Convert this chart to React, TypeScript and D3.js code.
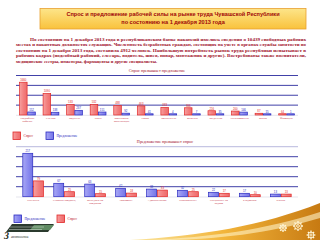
import * as React from 'react';
import * as d3 from 'd3';

const TITLE_LINES = [
  'Спрос и предложение рабочей силы на рынке труда Чувашской Республики',
  'по состоянию на 1 декабря 2013 года',
];

const PARAGRAPH = [
  'По состоянию на 1 декабря 2013 года в республиканском банке вакансий имелись сведения о 10439 свободных рабочих',
  'местах и вакантных должностях служащих. Численность безработных граждан, состоящих на учете в органах службы занятости по',
  'состоянию на 1 декабря 2013 года, составила 4912 человек. Наибольшую потребность рынок труда республики испытывает в',
  'рабочих кадрах (подсобный рабочий, слесарь, водитель, швея, повар, монтажник и другие). Востребованы также воспитатели,',
  'медицинские сестры, инженеры, фармацевты и другие специалисты.',
];

// chart 1: demand exceeds supply
const demandCats = [
  'Подсобный\nрабочий', 'Слесарь', 'Водитель', 'Швея', 'Монтажник\nконструкций', 'Повар',
  'Воспитатель', 'Инженер', 'Медсестра', 'Электромонтер', 'Маляр', 'Фармацевт',
];
const demandVacancies = [1660, 1090, 533, 532, 488, 463, 383, 366, 216, 200, 87, 64];
const demandJobseekers = [152, 138, 237, 151, 92, 41, 4, 7, 35, 146, 15, 1];
const demandTicks = [500, 1000, 1500, 2000];

// chart 2: supply exceeds demand
const supplyCats = [
  'Бухгалтер', 'Старший продавец', 'Менеджер по\nпродажам', 'Экономист', 'Администратор',
  'Юрисконсульт', 'Специалист по\nкадрам', 'Кладовщик', 'Кассир',
];
const supplyJobseekers = [217, 67, 63, 42, 38, 32, 22, 17, 13];
const supplyVacancies = [79, 25, 15, 18, 33, 25, 17, 10, 13];
const supplyTicks = [50, 100, 150, 200, 250];

const RED = '#e02828';
const BLUE = '#2a2ac0';
const GRID = '#2b2b9e';
const TEXT_RED = '#a0102a';

function GroupedBars({
  cats, first, second, firstKind, ticks, yMax, top, bottom, left, right, padOuter, title, titleX, titleY,
}: any) {
  const x = d3.scaleBand<number>().domain(d3.range(cats.length)).range([left, right])
    .paddingInner(0.33).paddingOuter(padOuter);
  const inner = d3.scaleBand<number>().domain([0, 1]).range([0, x.bandwidth()]).paddingInner(0.08);
  const y = d3.scaleLinear().domain([0, yMax]).range([bottom, top]);
  const series = [first, second];
  const kinds = firstKind === 'red' ? ['red', 'blue'] : ['blue', 'red'];

  return (
    <g>
      <text x={titleX} y={titleY} textAnchor="middle" fontSize={4.2} fill={TEXT_RED}
        fontFamily="Liberation Serif">{title}</text>
      {ticks.map((t: number, i: number) => (
        <line key={t} x1={left} x2={right} y1={y(t)} y2={y(t)}
          stroke={i === ticks.length - 1 && firstKind === 'blue' ? '#8a8ac8' : GRID}
          strokeWidth={i === ticks.length - 1 && firstKind === 'blue' ? 0.6 : 0.9} />
      ))}
      <line x1={left} x2={right} y1={bottom + 0.3} y2={bottom + 0.3} stroke="#c8c8d8" strokeWidth={0.5} />
      {cats.map((c: string, i: number) => (
        <g key={i} transform={`translate(${x(i)},0)`}>
          {series.map((s: number[], k: number) => {
            const v = s[i];
            const h = Math.max(bottom - y(v), 1.2);
            const kind = kinds[k];
            return (
              <g key={k}>
                <rect x={inner(k)} y={bottom - h} width={inner.bandwidth()} height={h}
                  fill={`url(#grad-${kind})`} stroke={kind === 'red' ? RED : BLUE} strokeWidth={0.7} />
                <text x={(inner(k) as number) + inner.bandwidth() / 2} y={bottom - h - 1.2}
                  textAnchor="middle" fontSize={2.8} fontFamily="Liberation Sans"
                  fill={kind === 'red' ? RED : BLUE}>{v}</text>
              </g>
            );
          })}
          {c.split('\n').map((ln, j) => (
            <text key={j} x={x.bandwidth() / 2} y={bottom + 4 + j * 3.2} textAnchor="middle"
              fontSize={2.8} fontFamily="Liberation Serif" fill="#c02030">{ln}</text>
          ))}
        </g>
      ))}
    </g>
  );
}

function Legend({ x, y, items }: any) {
  return (
    <g transform={`translate(${x},${y})`}>
      {items.map((it: any, i: number) => (
        <g key={i} transform={`translate(${it.dx},0)`}>
          <rect x={0} y={0} width={7.5} height={7.5} fill={`url(#grad-${it.kind})`}
            stroke={it.kind === 'red' ? RED : BLUE} strokeWidth={0.8} />
          <text x={10.5} y={5.3} fontSize={3.6} fontFamily="Liberation Serif"
            fill={it.kind === 'red' ? '#c02030' : BLUE}>{it.label}</text>
        </g>
      ))}
    </g>
  );
}

export default function App() {
  const gearAngles = d3.range(8).map((i) => (i * Math.PI) / 4);
  const gear = (cx: number, cy: number, r: number) => (
    <g transform={`translate(${cx},${cy})`} fill="none" stroke="#fff6d8" strokeWidth={1}>
      <circle r={r} />
      <circle r={r * 0.4} />
      {gearAngles.map((a, i) => (
        <line key={i} x1={Math.cos(a) * r} y1={Math.sin(a) * r}
          x2={Math.cos(a) * (r + 1.6)} y2={Math.sin(a) * (r + 1.6)} strokeWidth={1.3} />
      ))}
    </g>
  );

  return (
    <svg width={320} height={240} style={{ position: 'fixed', left: 0, top: 0, background: '#fff' }}>
      <defs>
        <linearGradient id="grad-red" x1="0" x2="1" y1="0" y2="0">
          <stop offset="0" stopColor="#f7a0a0" />
          <stop offset="0.5" stopColor="#f38080" />
          <stop offset="1" stopColor="#ee6a6a" />
        </linearGradient>
        <linearGradient id="grad-blue" x1="0" x2="1" y1="0" y2="0">
          <stop offset="0" stopColor="#a8a8f4" />
          <stop offset="0.5" stopColor="#8c8cf0" />
          <stop offset="1" stopColor="#7474e6" />
        </linearGradient>
        <linearGradient id="grad-title" x1="0" x2="0" y1="0" y2="1">
          <stop offset="0" stopColor="#fde58a" />
          <stop offset="1" stopColor="#f9c23c" />
        </linearGradient>
        <linearGradient id="grad-swoosh" x1="0" x2="1" y1="0" y2="0">
          <stop offset="0" stopColor="#fbe7a0" />
          <stop offset="0.5" stopColor="#f2b43a" />
          <stop offset="1" stopColor="#c77a12" />
        </linearGradient>
      </defs>

      <rect x={40} y={8.5} width={266} height={20.5} fill="url(#grad-title)" stroke="#e8a030" strokeWidth={0.8} />
      {TITLE_LINES.map((t, i) => (
        <text key={i} x={173} y={16 + i * 8} textAnchor="middle" fontSize={5.6} fontWeight="bold"
          fontFamily="Liberation Sans" fill="#a00808">{t}</text>
      ))}

      {PARAGRAPH.map((t, i) => {
        const x0 = i === 0 ? 30 : 16;
        const last = i === PARAGRAPH.length - 1;
        return (
          <text key={i} x={x0} y={40.5 + i * 5.6} fontSize={4.5} fontWeight="bold"
            fontFamily="Liberation Serif" fill={TEXT_RED}
            textLength={last ? undefined : 306 - x0} lengthAdjust="spacingAndGlyphs">{t}</text>
        );
      })}

      <GroupedBars cats={demandCats} first={demandVacancies} second={demandJobseekers} firstKind="red"
        ticks={demandTicks} yMax={2000} top={75.5} bottom={115} left={16} right={298} padOuter={0.15}
        title="Спрос превышает предложение" titleX={157} titleY={72} />
      <Legend x={13} y={132} items={[{ kind: 'red', label: 'Спрос', dx: 0 }, { kind: 'blue', label: 'Предложение', dx: 33 }]} />

      <GroupedBars cats={supplyCats} first={supplyJobseekers} second={supplyVacancies} firstKind="blue"
        ticks={supplyTicks} yMax={250} top={146.7} bottom={196.7} left={16} right={298} padOuter={0.22}
        title="Предложение превышает спрос" titleX={165} titleY={143} />
      <Legend x={14} y={215} items={[{ kind: 'blue', label: 'Предложение', dx: 0 }, { kind: 'red', label: 'Спрос', dx: 43 }]} />

      {/* logo */}
      <g transform="translate(4,224)">
        <polygon points="8,0 50,0 44,8 2,8" fill="#2b3a2e" />
        <polygon points="30,1 50,1 46,6 26,6" fill="#5f8a62" />
        <line x1={6} y1={3} x2={40} y2={3} stroke="#d8e0d8" strokeWidth={0.5} />
        <line x1={5} y1={5.5} x2={38} y2={5.5} stroke="#d8e0d8" strokeWidth={0.5} />
        <text x={0} y={15} fontSize={10} fontStyle="italic" fontWeight="bold" fontFamily="Liberation Serif" fill="#1e2a20">3</text>
        <text x={7} y={14} fontSize={4} fontStyle="italic" fontFamily="Liberation Serif" fill="#1e2a20">анятость</text>
      </g>

      {/* swoosh */}
      <path d="M130,240 C200,236 262,226 320,203 L320,240 Z" fill="url(#grad-swoosh)" />
      <path d="M150,240 C210,237 265,230 320,212 L320,218 C268,234 215,239 170,240 Z" fill="#fff3c8" opacity={0.6} />
      {gear(283, 228, 2.4)}
      {gear(298, 226, 3.4)}
      {gear(311, 235, 2.8)}
    </svg>
  );
}
